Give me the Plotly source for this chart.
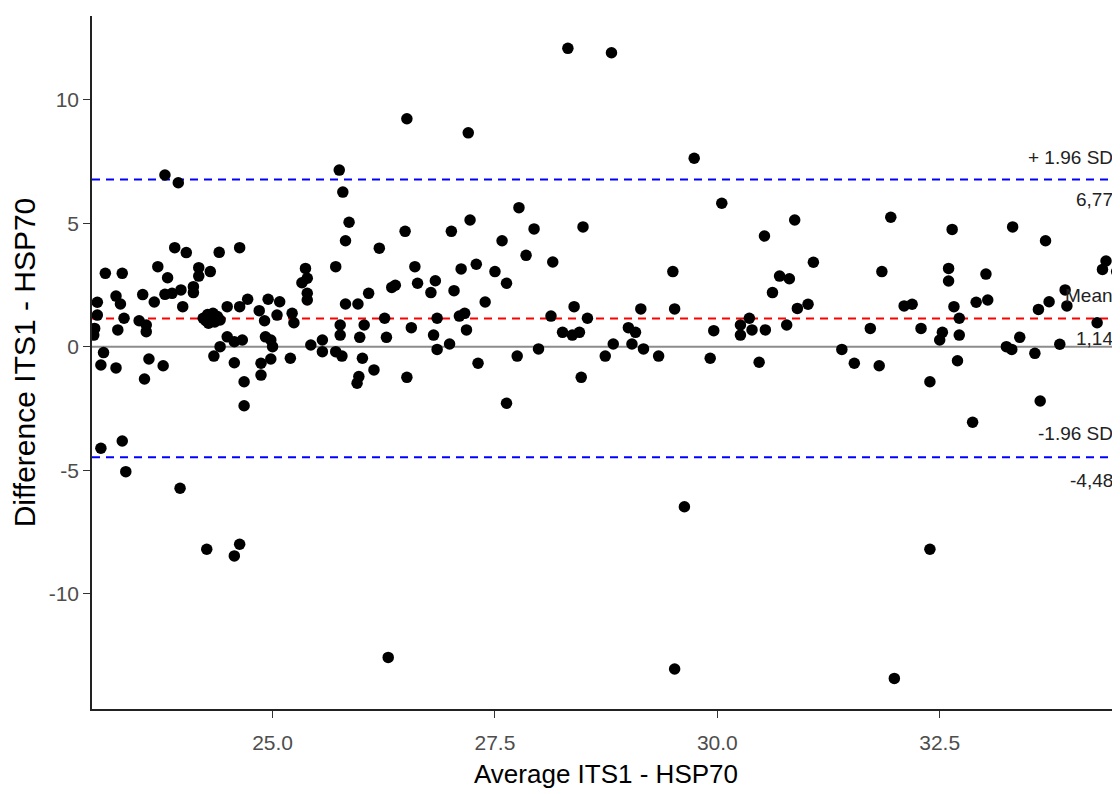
import plotly.graph_objects as go

# Average of the two methods (x) and their difference (y)
avg = [
    23.79, 23.94, 25.75, 25.79, 25.86, 25.82, 25.71,
    23.03, 23.03, 23.00, 22.99, 23.12, 23.10, 23.07, 23.24,
    23.24, 23.29, 23.33, 23.26, 23.31,
    23.50, 23.58, 23.58, 23.54, 23.67, 23.71, 23.61, 23.56, 23.77,
    23.82, 23.79, 23.87, 23.97, 23.90, 24.03, 23.99, 24.11, 24.11, 24.17, 24.17, 24.30, 24.40,
    24.22, 24.25, 24.28, 24.30, 24.33, 24.35, 24.38, 24.41, 24.27,
    24.49, 24.63, 24.63, 24.72, 24.34, 24.41, 24.49, 24.57, 24.66, 24.57, 24.68,
    24.85, 24.91, 24.95, 25.08, 25.05, 24.92, 24.98, 25.00, 24.98, 24.87, 24.87,
    25.22, 25.24, 25.20, 25.33, 25.37, 25.39, 25.39, 25.39, 25.43, 25.56, 25.56, 25.71, 25.78,
    25.76, 25.76, 25.82, 25.96, 26.03, 25.98, 26.08, 26.01, 26.14, 25.95, 25.97, 26.20,
    23.07, 23.31, 23.35, 23.96, 24.26, 24.57, 24.63, 24.68,
    28.32, 28.81, 26.51, 27.20, 29.74, 30.05, 27.77, 27.22, 28.49, 27.94, 26.49, 27.01,
    27.58, 27.85, 28.15, 29.50, 27.29, 26.60, 27.12, 27.50, 27.63, 26.63, 26.83, 26.78,
    27.04, 26.34, 26.38, 27.39, 28.39, 29.14, 29.52, 26.26, 26.85, 27.10, 27.16, 28.13,
    28.54, 26.56, 27.18, 26.28, 26.81, 28.26, 28.37, 28.45, 29.00, 29.08, 26.85, 26.99,
    27.99, 28.83, 29.04, 29.17, 27.75, 28.74, 29.34, 27.31, 26.51, 28.47, 27.63,
    29.96, 30.26, 30.36, 30.26, 30.39, 30.54, 30.78, 30.90, 29.92, 30.47,
    26.30, 29.63, 29.52,
    30.87, 30.53, 31.95, 32.64, 33.32, 33.69, 31.08, 30.70, 30.81, 30.62, 31.85, 32.60,
    32.60, 33.02, 34.33, 34.37, 34.49, 33.91, 31.02, 32.10, 32.19, 32.91, 33.04, 32.66,
    32.72, 33.61, 33.73, 33.93, 34.51, 31.72, 32.29, 32.53, 32.50, 32.72, 33.40, 34.27,
    33.85, 33.25, 33.31, 33.57, 31.40, 31.54, 31.82, 32.70, 32.39, 33.63,
    32.87, 32.39, 31.99,
]
diff = [
    6.95, 6.64, 7.15, 6.26, 5.04, 4.29, 3.24,
    1.80, 1.28, 0.74, 0.47, 2.97, -0.24, -0.74, -0.86,
    2.05, 1.73, 1.15, 0.68, 2.97,
    1.05, 0.88, 0.61, 2.11, 1.81, 3.24, -0.50, -1.31, -0.77,
    2.79, 2.12, 2.16, 2.30, 4.01, 3.81, 1.62, 2.43, 2.19, 3.20, 2.86, 3.04, 3.82,
    1.15, 1.05, 0.95, 1.25, 1.35, 1.00, 1.22, 1.08, 1.30,
    1.62, 4.01, 1.62, 1.92, -0.38, 0.00, 0.40, 0.20, 0.27, -0.65, -1.42,
    1.46, 1.05, 1.92, 1.82, 1.28, 0.40, 0.27, 0.00, -0.50, -0.67, -1.15,
    1.35, 0.97, -0.47, 2.59, 3.17, 2.77, 2.16, 1.89, 0.07, 0.27, -0.20, -0.20, -0.38,
    0.88, 0.47, 1.73, 1.73, 0.88, 0.38, 2.16, -0.47, -0.94, -1.48, -1.21, 3.99,
    -4.11, -3.82, -5.06, -5.73, -8.20, -8.47, -8.00, -2.39,
    12.08, 11.90, 9.23, 8.66, 7.63, 5.81, 5.63, 5.13, 4.85, 4.77, 4.67, 4.67,
    4.29, 3.70, 3.43, 3.04, 3.34, 3.24, 3.15, 3.04, 2.57, 2.57, 2.67, 2.19,
    2.27, 2.40, 2.49, 1.81, 1.62, 1.53, 1.53, 1.15, 1.15, 1.24, 1.35, 1.24,
    1.15, 0.77, 0.68, 0.38, 0.47, 0.58, 0.47, 0.58, 0.77, 0.58, -0.11, 0.11,
    -0.09, 0.11, 0.11, -0.09, -0.38, -0.38, -0.38, -0.67, -1.24, -1.24, -2.29,
    0.65, 0.88, 1.15, 0.47, 0.68, 0.68, 0.88, 1.55, -0.47, -0.63,
    -12.58, -6.48, -13.05,
    5.13, 4.48, 5.24, 4.75, 4.85, 4.29, 3.42, 2.86, 2.75, 2.19, 3.04, 3.17,
    2.66, 2.94, 3.13, 3.47, 3.04, 2.30, 1.72, 1.65, 1.72, 1.80, 1.89, 1.62,
    1.15, 1.51, 1.82, 1.65, 1.42, 0.74, 0.74, 0.58, 0.27, 0.47, 0.38, 0.97,
    0.10, 0.00, -0.11, -0.27, -0.11, -0.67, -0.77, -0.57, -1.42, -2.20,
    -3.06, -8.20, -13.43,
]

mean_diff = 1.14
upper_loa = 6.77
lower_loa = -4.48
zero_ref = 0.0

x_tick_vals = [25.0, 27.5, 30.0, 32.5]
x_tick_text = ["25.0", "27.5", "30.0", "32.5"]
y_tick_vals = [-10, -5, 0, 5, 10]
y_tick_text = ["-10", "-5", "0", "5", "10"]

FONT = "Arial, Liberation Sans, sans-serif"

fig = go.Figure()
fig.add_trace(go.Scatter(
    x=avg, y=diff, mode="markers",
    marker=dict(color="black", size=11.5, line=dict(width=0)),
    showlegend=False, hoverinfo="x+y",
))

# reference lines
fig.add_shape(type="line", xref="paper", x0=0, x1=1, y0=zero_ref, y1=zero_ref,
              line=dict(color="#8c8c8c", width=2), layer="below")
fig.add_shape(type="line", xref="paper", x0=0, x1=1, y0=mean_diff, y1=mean_diff,
              line=dict(color="#ff0000", width=2, dash="8px,6px"), layer="below")
for v in (upper_loa, lower_loa):
    fig.add_shape(type="line", xref="paper", x0=0, x1=1, y0=v, y1=v,
                  line=dict(color="#0000ff", width=2, dash="8px,6px"), layer="below")

labels = [
    ("+ 1.96 SD", upper_loa, 22),
    ("6,77", upper_loa, -20),
    ("Mean", mean_diff, 23),
    ("1,14", mean_diff, -20),
    ("-1.96 SD", lower_loa, 24),
    ("-4,48", lower_loa, -23),
]
for txt, yv, ys in labels:
    fig.add_annotation(text=txt, xref="paper", x=0.9955, y=yv, yref="y",
                       xanchor="right", yanchor="middle", yshift=ys,
                       showarrow=False, font=dict(family=FONT, size=19, color="#222222"))

# the page adds an 8px body margin, so the figure is sized/offset to compensate
fig.update_layout(
    width=1112, height=786,
    margin=dict(l=84, r=0, t=8, b=85),
    paper_bgcolor="white", plot_bgcolor="white",
    font=dict(family=FONT),
)
fig.update_xaxes(
    range=[22.97, 34.527], tickvals=x_tick_vals, ticktext=x_tick_text,
    showline=True, linecolor="#222222", linewidth=1.6, mirror=False,
    ticks="outside", ticklen=7, tickwidth=1.4, tickcolor="#333333",
    ticklabelstandoff=7,
    tickfont=dict(family=FONT, size=21, color="#4D4D4D"),
    showgrid=False, zeroline=False, automargin=False,
    title=dict(text="Average ITS1 - HSP70", font=dict(family=FONT, size=26, color="black"), standoff=12),
)
fig.update_yaxes(
    range=[-14.67, 13.39], tickvals=y_tick_vals, ticktext=y_tick_text,
    showline=True, linecolor="#222222", linewidth=1.6,
    ticks="outside", ticklen=7, tickwidth=1.4, tickcolor="#333333",
    tickfont=dict(family=FONT, size=21, color="#4D4D4D"),
    showgrid=False, zeroline=False, automargin=False,
    title=dict(text="Difference ITS1 - HSP70", font=dict(family=FONT, size=30, color="black"), standoff=4),
)

fig.write_html("out.html")
